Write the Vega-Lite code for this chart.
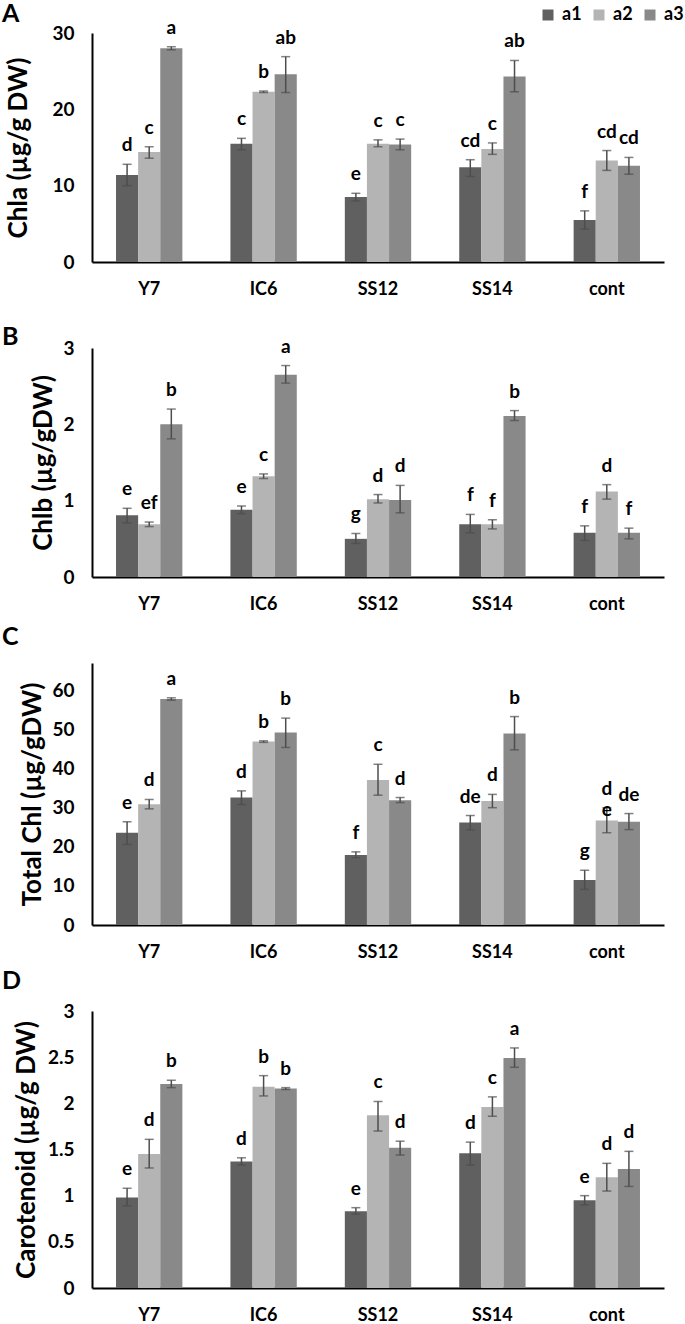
{
  "$schema": "https://vega.github.io/schema/vega-lite/v6.json",
  "padding": {"left": 2, "top": 2, "right": 0, "bottom": 0},
  "background": "white",
  "bounds": "flush",
  "spacing": 86,
  "config": {
    "font": "Lato",
    "view": {"stroke": null},
    "axis": {"grid": false, "ticks": false, "tickSize": 0, "domainColor": "#000000", "domainWidth": 2, "labelFont": "Lato", "labelFontWeight": "bold", "labelColor": "#000000", "titleColor": "#000000", "titleFont": "Lato", "titleFontWeight": "bold"},
    "axisX": {"labelFontSize": 18, "labelPadding": 18, "labelAngle": 0},
    "axisY": {"labelFontSize": 19, "labelPadding": 18, "titleFontSize": 26, "format": "~r"},
    "title": {"fontSize": 25, "fontWeight": "bold", "anchor": "start", "frame": "group", "color": "#000000", "font": "Lato"},
    "text": {"font": "Lato"}
  },
  "resolve": {"scale": {"color": "independent", "y": "independent"}, "legend": {"color": "independent"}},
  "datasets": {
    "chla": [
      {"cat": "Y7", "series": "a1", "value": 11.4, "lo": 10.0, "hi": 12.8, "sig": "d"},
      {"cat": "Y7", "series": "a2", "value": 14.4, "lo": 13.6, "hi": 15.1, "sig": "c"},
      {"cat": "Y7", "series": "a3", "value": 28.0, "lo": 27.8, "hi": 28.2, "sig": "a"},
      {"cat": "IC6", "series": "a1", "value": 15.5, "lo": 14.7, "hi": 16.2, "sig": "c"},
      {"cat": "IC6", "series": "a2", "value": 22.3, "lo": 22.2, "hi": 22.4, "sig": "b"},
      {"cat": "IC6", "series": "a3", "value": 24.6, "lo": 22.2, "hi": 26.9, "sig": "ab"},
      {"cat": "SS12", "series": "a1", "value": 8.5, "lo": 8.0, "hi": 9.0, "sig": "e"},
      {"cat": "SS12", "series": "a2", "value": 15.5, "lo": 15.1, "hi": 16.0, "sig": "c"},
      {"cat": "SS12", "series": "a3", "value": 15.4, "lo": 14.7, "hi": 16.1, "sig": "c"},
      {"cat": "SS14", "series": "a1", "value": 12.4, "lo": 11.2, "hi": 13.4, "sig": "cd"},
      {"cat": "SS14", "series": "a2", "value": 14.8, "lo": 14.1, "hi": 15.6, "sig": "c"},
      {"cat": "SS14", "series": "a3", "value": 24.3, "lo": 22.3, "hi": 26.4, "sig": "ab"},
      {"cat": "cont", "series": "a1", "value": 5.5, "lo": 4.3, "hi": 6.7, "sig": "f"},
      {"cat": "cont", "series": "a2", "value": 13.3, "lo": 12.0, "hi": 14.6, "sig": "cd"},
      {"cat": "cont", "series": "a3", "value": 12.6, "lo": 11.5, "hi": 13.7, "sig": "cd"}
    ],
    "chlb": [
      {"cat": "Y7", "series": "a1", "value": 0.81, "lo": 0.71, "hi": 0.90, "sig": "e"},
      {"cat": "Y7", "series": "a2", "value": 0.69, "lo": 0.66, "hi": 0.72, "sig": "ef"},
      {"cat": "Y7", "series": "a3", "value": 2.0, "lo": 1.81, "hi": 2.20, "sig": "b"},
      {"cat": "IC6", "series": "a1", "value": 0.88, "lo": 0.83, "hi": 0.93, "sig": "e"},
      {"cat": "IC6", "series": "a2", "value": 1.32, "lo": 1.29, "hi": 1.35, "sig": "c"},
      {"cat": "IC6", "series": "a3", "value": 2.65, "lo": 2.54, "hi": 2.77, "sig": "a"},
      {"cat": "SS12", "series": "a1", "value": 0.50, "lo": 0.44, "hi": 0.57, "sig": "g"},
      {"cat": "SS12", "series": "a2", "value": 1.02, "lo": 0.97, "hi": 1.08, "sig": "d"},
      {"cat": "SS12", "series": "a3", "value": 1.01, "lo": 0.84, "hi": 1.20, "sig": "d"},
      {"cat": "SS14", "series": "a1", "value": 0.69, "lo": 0.58, "hi": 0.82, "sig": "f"},
      {"cat": "SS14", "series": "a2", "value": 0.69, "lo": 0.63, "hi": 0.75, "sig": "f"},
      {"cat": "SS14", "series": "a3", "value": 2.11, "lo": 2.05, "hi": 2.18, "sig": "b"},
      {"cat": "cont", "series": "a1", "value": 0.58, "lo": 0.48, "hi": 0.67, "sig": "f"},
      {"cat": "cont", "series": "a2", "value": 1.12, "lo": 1.02, "hi": 1.21, "sig": "d"},
      {"cat": "cont", "series": "a3", "value": 0.58, "lo": 0.50, "hi": 0.64, "sig": "f"}
    ],
    "total": [
      {"cat": "Y7", "series": "a1", "value": 23.6, "lo": 20.6, "hi": 26.4, "sig": "e"},
      {"cat": "Y7", "series": "a2", "value": 30.9, "lo": 29.7, "hi": 32.1, "sig": "d"},
      {"cat": "Y7", "series": "a3", "value": 57.8, "lo": 57.5, "hi": 58.1, "sig": "a"},
      {"cat": "IC6", "series": "a1", "value": 32.6, "lo": 30.8, "hi": 34.3, "sig": "d"},
      {"cat": "IC6", "series": "a2", "value": 46.9, "lo": 46.7, "hi": 47.1, "sig": "b"},
      {"cat": "IC6", "series": "a3", "value": 49.2, "lo": 45.4, "hi": 52.9, "sig": "b"},
      {"cat": "SS12", "series": "a1", "value": 17.9, "lo": 17.2, "hi": 18.7, "sig": "f"},
      {"cat": "SS12", "series": "a2", "value": 37.1, "lo": 33.2, "hi": 41.1, "sig": "c"},
      {"cat": "SS12", "series": "a3", "value": 31.9, "lo": 31.3, "hi": 32.6, "sig": "d"},
      {"cat": "SS14", "series": "a1", "value": 26.2, "lo": 24.3, "hi": 28.0, "sig": "de"},
      {"cat": "SS14", "series": "a2", "value": 31.7, "lo": 30.0, "hi": 33.4, "sig": "d"},
      {"cat": "SS14", "series": "a3", "value": 49.0, "lo": 44.8, "hi": 53.3, "sig": "b"},
      {"cat": "cont", "series": "a1", "value": 11.5, "lo": 9.1, "hi": 14.0, "sig": "g"},
      {"cat": "cont", "series": "a2", "value": 26.7, "lo": 23.6, "hi": 30.0, "sig": "d/e"},
      {"cat": "cont", "series": "a3", "value": 26.4, "lo": 24.4, "hi": 28.5, "sig": "de"}
    ],
    "carot": [
      {"cat": "Y7", "series": "a1", "value": 0.98, "lo": 0.89, "hi": 1.08, "sig": "e"},
      {"cat": "Y7", "series": "a2", "value": 1.45, "lo": 1.30, "hi": 1.61, "sig": "d"},
      {"cat": "Y7", "series": "a3", "value": 2.21, "lo": 2.17, "hi": 2.25, "sig": "b"},
      {"cat": "IC6", "series": "a1", "value": 1.37, "lo": 1.33, "hi": 1.41, "sig": "d"},
      {"cat": "IC6", "series": "a2", "value": 2.18, "lo": 2.08, "hi": 2.30, "sig": "b"},
      {"cat": "IC6", "series": "a3", "value": 2.16, "lo": 2.15, "hi": 2.17, "sig": "b"},
      {"cat": "SS12", "series": "a1", "value": 0.83, "lo": 0.80, "hi": 0.87, "sig": "e"},
      {"cat": "SS12", "series": "a2", "value": 1.87, "lo": 1.70, "hi": 2.02, "sig": "c"},
      {"cat": "SS12", "series": "a3", "value": 1.52, "lo": 1.44, "hi": 1.59, "sig": "d"},
      {"cat": "SS14", "series": "a1", "value": 1.46, "lo": 1.33, "hi": 1.58, "sig": "d"},
      {"cat": "SS14", "series": "a2", "value": 1.96, "lo": 1.86, "hi": 2.07, "sig": "c"},
      {"cat": "SS14", "series": "a3", "value": 2.49, "lo": 2.39, "hi": 2.60, "sig": "a"},
      {"cat": "cont", "series": "a1", "value": 0.95, "lo": 0.90, "hi": 1.00, "sig": "e"},
      {"cat": "cont", "series": "a2", "value": 1.20, "lo": 1.05, "hi": 1.35, "sig": "d"},
      {"cat": "cont", "series": "a3", "value": 1.29, "lo": 1.10, "hi": 1.48, "sig": "d"}
    ]
  },
  "vconcat": [
    {
      "title": {"text": "A", "dx": -90, "offset": -21},
      "width": 572, "height": 229,
      "data": {"name": "chla"},
      "encoding": {
        "x": {"field": "cat", "type": "nominal", "sort": ["Y7", "IC6", "SS12", "SS14", "cont"], "scale": {"paddingInner": 0.42, "paddingOuter": 0.21}, "axis": {"title": null}},
        "xOffset": {"field": "series", "type": "nominal", "sort": ["a1", "a2", "a3"]}
      },
      "layer": [
        {"mark": {"type": "bar"}, "encoding": {
          "y": {"field": "value", "type": "quantitative", "title": "Chla (µg/g DW)", "scale": {"domain": [0, 30]}, "axis": {"values": [0, 5, 10, 15, 20, 25, 30], "titlePadding": 20}},
          "color": {"field": "series", "type": "nominal", "scale": {"domain": ["a1", "a2", "a3"], "range": ["#606060", "#b4b4b4", "#898989"]},
            "legend": {"orient": "none", "legendX": 447, "legendY": -27, "direction": "horizontal", "title": null, "symbolType": "square", "symbolSize": 121, "symbolStrokeWidth": 0, "symbolOpacity": 1, "labelFontSize": 18, "labelFontWeight": "bold", "labelColor": "#000000", "labelFont": "Lato", "labelOffset": 5, "columnPadding": 8, "padding": 0}}
        }},
        {"mark": {"type": "rule", "color": "#4d4d4d", "strokeWidth": 1.5}, "encoding": {"y": {"field": "lo", "type": "quantitative", "title": "Chla (µg/g DW)"}, "y2": {"field": "hi"}}},
        {"mark": {"type": "tick", "color": "#4d4d4d", "size": 9, "thickness": 1.5, "orient": "horizontal"}, "encoding": {"y": {"field": "hi", "type": "quantitative", "title": "Chla (µg/g DW)"}}},
        {"mark": {"type": "tick", "color": "#4d4d4d", "size": 9, "thickness": 1.5, "orient": "horizontal"}, "encoding": {"y": {"field": "lo", "type": "quantitative", "title": "Chla (µg/g DW)"}}},
        {"mark": {"type": "text", "dy": -13, "baseline": "alphabetic", "fontWeight": "bold", "fontSize": 19, "color": "#000000", "lineBreak": "/"}, "encoding": {"y": {"field": "hi", "type": "quantitative", "title": "Chla (µg/g DW)"}, "text": {"field": "sig"}}}
      ]
    },
    {
      "title": {"text": "B", "dx": -90, "offset": -12},
      "width": 572, "height": 229,
      "data": {"name": "chlb"},
      "encoding": {
        "x": {"field": "cat", "type": "nominal", "sort": ["Y7", "IC6", "SS12", "SS14", "cont"], "scale": {"paddingInner": 0.42, "paddingOuter": 0.21}, "axis": {"title": null}},
        "xOffset": {"field": "series", "type": "nominal", "sort": ["a1", "a2", "a3"]}
      },
      "layer": [
        {"mark": {"type": "bar"}, "encoding": {
          "y": {"field": "value", "type": "quantitative", "title": "Chlb (µg/gDW)", "scale": {"domain": [0, 3]}, "axis": {"values": [0, 0.5, 1, 1.5, 2, 2.5, 3], "titlePadding": 6}},
          "color": {"field": "series", "type": "nominal", "scale": {"domain": ["a1", "a2", "a3"], "range": ["#606060", "#b4b4b4", "#898989"]}, "legend": null}
        }},
        {"mark": {"type": "rule", "color": "#4d4d4d", "strokeWidth": 1.5}, "encoding": {"y": {"field": "lo", "type": "quantitative", "title": "Chlb (µg/gDW)"}, "y2": {"field": "hi"}}},
        {"mark": {"type": "tick", "color": "#4d4d4d", "size": 9, "thickness": 1.5, "orient": "horizontal"}, "encoding": {"y": {"field": "hi", "type": "quantitative", "title": "Chlb (µg/gDW)"}}},
        {"mark": {"type": "tick", "color": "#4d4d4d", "size": 9, "thickness": 1.5, "orient": "horizontal"}, "encoding": {"y": {"field": "lo", "type": "quantitative", "title": "Chlb (µg/gDW)"}}},
        {"mark": {"type": "text", "dy": -13, "baseline": "alphabetic", "fontWeight": "bold", "fontSize": 19, "color": "#000000", "lineBreak": "/"}, "encoding": {"y": {"field": "hi", "type": "quantitative", "title": "Chlb (µg/gDW)"}, "text": {"field": "sig"}}}
      ]
    },
    {
      "title": {"text": "C", "dx": -90, "offset": 13},
      "width": 572, "height": 262,
      "data": {"name": "total"},
      "encoding": {
        "x": {"field": "cat", "type": "nominal", "sort": ["Y7", "IC6", "SS12", "SS14", "cont"], "scale": {"paddingInner": 0.42, "paddingOuter": 0.21}, "axis": {"title": null}},
        "xOffset": {"field": "series", "type": "nominal", "sort": ["a1", "a2", "a3"]}
      },
      "layer": [
        {"mark": {"type": "bar"}, "encoding": {
          "y": {"field": "value", "type": "quantitative", "title": "Total Chl (µg/gDW)", "scale": {"domain": [0, 67], "nice": false}, "axis": {"values": [0, 10, 20, 30, 40, 50, 60], "titlePadding": 6}},
          "color": {"field": "series", "type": "nominal", "scale": {"domain": ["a1", "a2", "a3"], "range": ["#606060", "#b4b4b4", "#898989"]}, "legend": null}
        }},
        {"mark": {"type": "rule", "color": "#4d4d4d", "strokeWidth": 1.5}, "encoding": {"y": {"field": "lo", "type": "quantitative", "title": "Total Chl (µg/gDW)"}, "y2": {"field": "hi"}}},
        {"mark": {"type": "tick", "color": "#4d4d4d", "size": 9, "thickness": 1.5, "orient": "horizontal"}, "encoding": {"y": {"field": "hi", "type": "quantitative", "title": "Total Chl (µg/gDW)"}}},
        {"mark": {"type": "tick", "color": "#4d4d4d", "size": 9, "thickness": 1.5, "orient": "horizontal"}, "encoding": {"y": {"field": "lo", "type": "quantitative", "title": "Total Chl (µg/gDW)"}}},
        {"mark": {"type": "text", "dy": -13, "baseline": "alphabetic", "fontWeight": "bold", "fontSize": 19, "color": "#000000", "lineBreak": "/"}, "encoding": {"y": {"field": "hi", "type": "quantitative", "title": "Total Chl (µg/gDW)"}, "text": {"field": "sig"}}}
      ]
    },
    {
      "title": {"text": "D", "dx": -90, "offset": 8},
      "width": 572, "height": 277,
      "data": {"name": "carot"},
      "encoding": {
        "x": {"field": "cat", "type": "nominal", "sort": ["Y7", "IC6", "SS12", "SS14", "cont"], "scale": {"paddingInner": 0.42, "paddingOuter": 0.21}, "axis": {"title": null}},
        "xOffset": {"field": "series", "type": "nominal", "sort": ["a1", "a2", "a3"]}
      },
      "layer": [
        {"mark": {"type": "bar"}, "encoding": {
          "y": {"field": "value", "type": "quantitative", "title": "Carotenoid (µg/g DW)", "scale": {"domain": [0, 3]}, "axis": {"values": [0, 0.5, 1, 1.5, 2, 2.5, 3], "titlePadding": 8}},
          "color": {"field": "series", "type": "nominal", "scale": {"domain": ["a1", "a2", "a3"], "range": ["#606060", "#b4b4b4", "#898989"]}, "legend": null}
        }},
        {"mark": {"type": "rule", "color": "#4d4d4d", "strokeWidth": 1.5}, "encoding": {"y": {"field": "lo", "type": "quantitative", "title": "Carotenoid (µg/g DW)"}, "y2": {"field": "hi"}}},
        {"mark": {"type": "tick", "color": "#4d4d4d", "size": 9, "thickness": 1.5, "orient": "horizontal"}, "encoding": {"y": {"field": "hi", "type": "quantitative", "title": "Carotenoid (µg/g DW)"}}},
        {"mark": {"type": "tick", "color": "#4d4d4d", "size": 9, "thickness": 1.5, "orient": "horizontal"}, "encoding": {"y": {"field": "lo", "type": "quantitative", "title": "Carotenoid (µg/g DW)"}}},
        {"mark": {"type": "text", "dy": -13, "baseline": "alphabetic", "fontWeight": "bold", "fontSize": 19, "color": "#000000", "lineBreak": "/"}, "encoding": {"y": {"field": "hi", "type": "quantitative", "title": "Carotenoid (µg/g DW)"}, "text": {"field": "sig"}}}
      ]
    }
  ]
}
